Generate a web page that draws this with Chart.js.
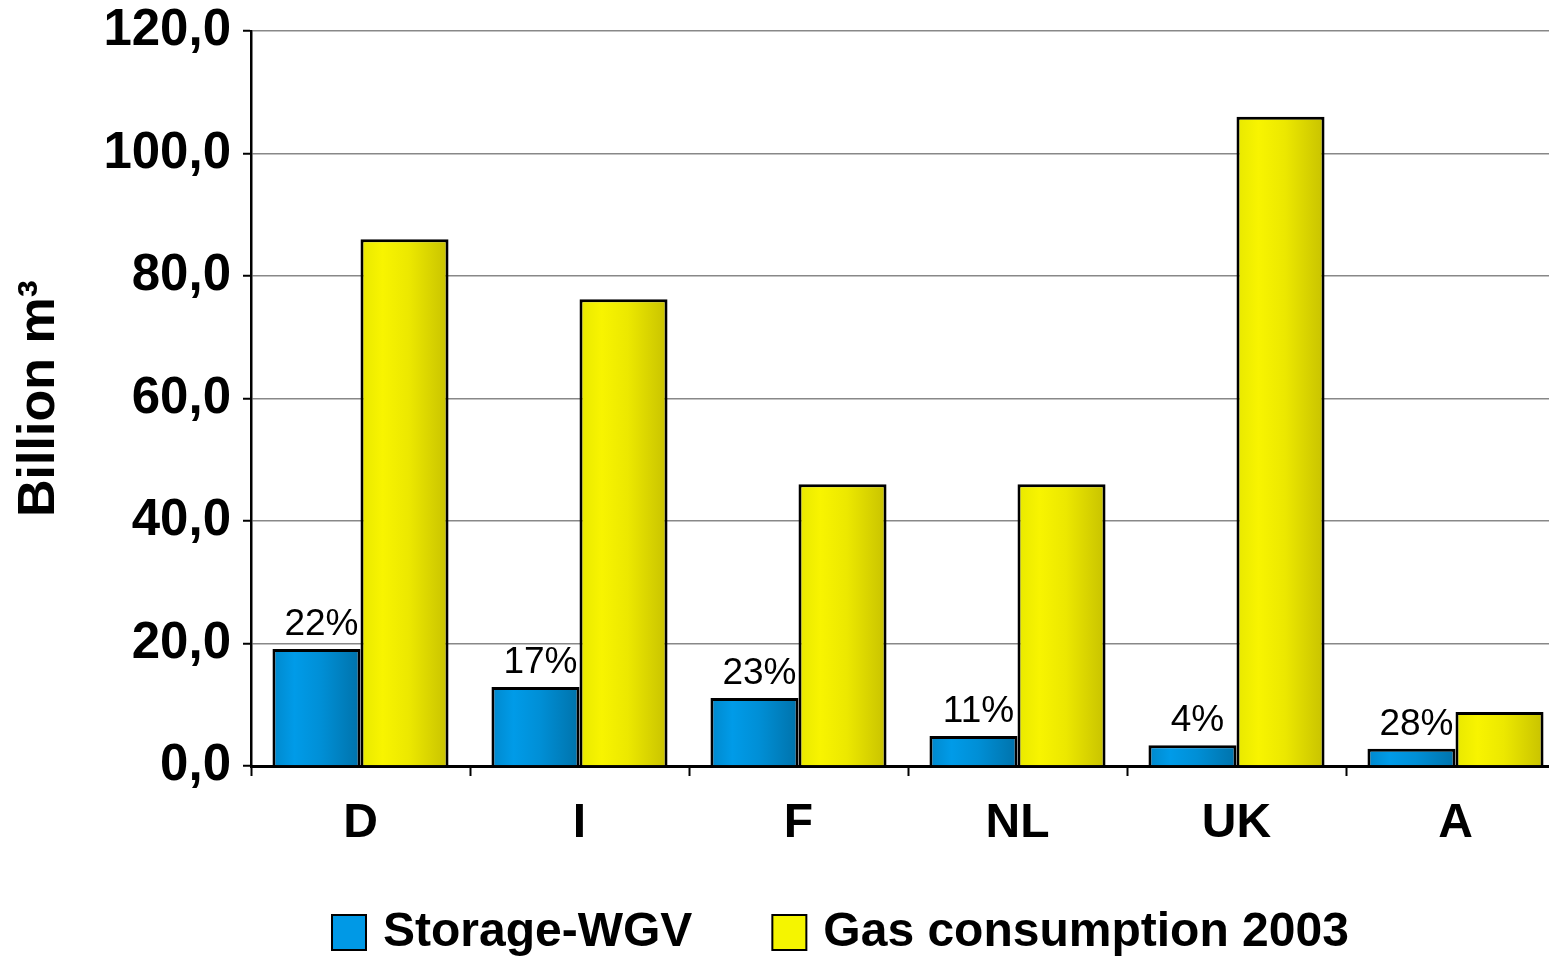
<!DOCTYPE html>
<html>
<head>
<meta charset="utf-8">
<script src="https://cdn.jsdelivr.net/npm/chart.js@4/dist/chart.umd.min.js"></script>
<style>
html,body{margin:0;padding:0;background:#fff;overflow:hidden;}
#wrap{position:relative;width:1566px;height:957px;}
</style>
</head>
<body>
<div id="wrap"><canvas id="c"></canvas></div>
<script>
const categories = ['D', 'I', 'F', 'NL', 'UK', 'A'];
const storageWGV = [19.1, 12.9, 11.1, 4.9, 3.4, 2.8];
const gasConsumption2003 = [86.0, 76.2, 46.0, 46.0, 106.0, 8.8];
const shareLabels = ['22%', '17%', '23%', '11%', '4%', '28%'];
const yTickLabels = ['0,0', '20,0', '40,0', '60,0', '80,0', '100,0', '120,0'];
const seriesNames = ['Storage-WGV', 'Gas consumption 2003'];

const FONT = '"Liberation Sans", Arial, Helvetica, sans-serif';

const stops = [
  [[0, '#0088cc'], [0.25, '#009be8'], [0.55, '#008fd6'], [1, '#0072aa']],
  [[0, '#e8e800'], [0.25, '#f8f400'], [0.55, '#ece800'], [1, '#c8c200']]
];
const flat = ['#0099e6', '#f5f500'];

const gradientPlugin = {
  id: 'grad',
  beforeDatasetsDraw(chart) {
    const ctx = chart.ctx;
    chart.data.datasets.forEach((ds, di) => {
      const meta = chart.getDatasetMeta(di);
      meta.data.forEach(el => {
        const l = el.x - el.width / 2, r = el.x + el.width / 2;
        const g = ctx.createLinearGradient(l, 0, r, 0);
        stops[di].forEach(s => g.addColorStop(s[0], s[1]));
        el.options.backgroundColor = g;
      });
    });
  }
};

const shareLabelPlugin = {
  id: 'shares',
  afterDatasetsDraw(chart) {
    const ctx = chart.ctx;
    const meta = chart.getDatasetMeta(0);
    ctx.save();
    ctx.font = '37px ' + FONT;
    ctx.fillStyle = '#000';
    ctx.textAlign = 'center';
    ctx.textBaseline = 'bottom';
    meta.data.forEach((el, i) => {
      ctx.fillText(shareLabels[i], el.x + 5, el.y - 6);
    });
    ctx.restore();
  }
};

const legendPlugin = {
  id: 'customLegend',
  afterDraw(chart) {
    const ctx = chart.ctx;
    ctx.save();
    ctx.font = 'bold 48px ' + FONT;
    ctx.textBaseline = 'middle';
    ctx.textAlign = 'left';
    let x = 332;
    const cy = 932;
    seriesNames.forEach((name, i) => {
      ctx.fillStyle = flat[i];
      ctx.fillRect(x, cy - 17, 34, 35);
      ctx.lineWidth = 2;
      ctx.strokeStyle = '#000';
      ctx.strokeRect(x, cy - 17, 34, 35);
      ctx.fillStyle = '#000';
      ctx.fillText(name, x + 51, cy + 1);
      x += 51 + ctx.measureText(name).width + 80;
    });
    ctx.restore();
  }
};

new Chart(document.getElementById('c'), {
  type: 'bar',
  data: {
    labels: categories,
    datasets: [
      { label: seriesNames[0], data: storageWGV, backgroundColor: () => flat[0], borderColor: '#000', borderWidth: 3 },
      { label: seriesNames[1], data: gasConsumption2003, backgroundColor: () => flat[1], borderColor: '#000', borderWidth: 3 }
    ]
  },
  options: {
    responsive: true,
    maintainAspectRatio: false,
    animation: false,
    devicePixelRatio: 1,
    layout: { padding: { top: 31, left: 0, right: 1, bottom: 0 } },
    datasets: { bar: { categoryPercentage: 0.804, barPercentage: 1.0 } },
    plugins: { legend: { display: false }, tooltip: { enabled: false } },
    scales: {
      x: {
        grid: { display: true, drawOnChartArea: false, offset: true, tickLength: 10, tickColor: '#000', tickWidth: 2 },
        border: { display: true, color: '#000', width: 3 },
        ticks: { color: '#000', font: { family: FONT, size: 48, weight: 'bold' }, padding: 19, maxRotation: 0 },
        afterFit(scale) { scale.height = 191; scale.paddingLeft = 0; scale.paddingRight = 0; }
      },
      y: {
        min: 0, max: 120,
        ticks: {
          stepSize: 20,
          color: '#000',
          padding: 12,
          font: { family: FONT, size: 51, weight: 'bold' },
          callback: (v) => yTickLabels[Math.round(v / 20)]
        },
        grid: { color: '#888', lineWidth: 1.5, tickLength: 8, tickColor: '#000', tickWidth: 2 },
        border: { display: true, color: '#000', width: 2.5 },
        title: { display: true, text: 'Billion m³', color: '#000', font: { family: FONT, size: 52, weight: 'bold' }, padding: { top: 8, bottom: 0 } },
        afterFit(scale) { scale.width = 251; scale.paddingTop = 0; scale.paddingBottom = 0; }
      }
    }
  },
  plugins: [gradientPlugin, shareLabelPlugin, legendPlugin]
});
</script>
</body>
</html>
